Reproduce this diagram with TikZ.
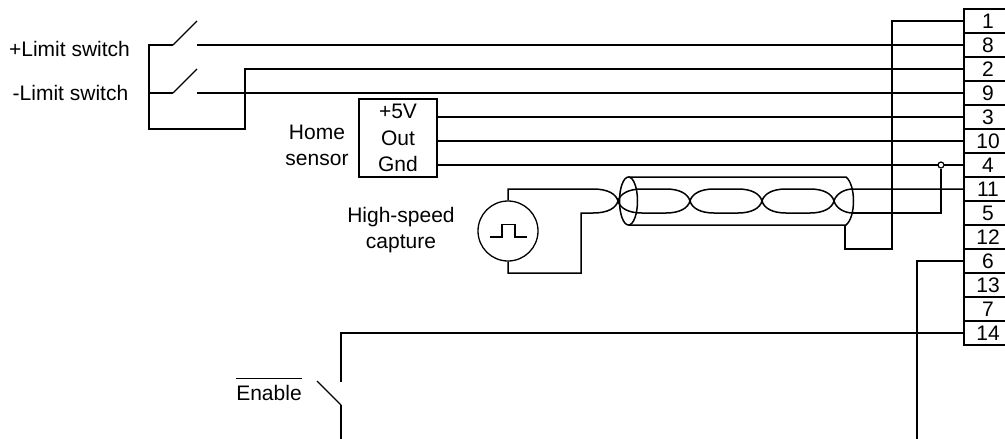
\documentclass[tikz,border=0pt]{standalone}
\usepackage{fontspec}
\setmainfont{Liberation Sans}
\usetikzlibrary{calc}

\begin{document}
\begin{tikzpicture}[x=1pt, y=-1pt]
    % styles: wires, connector cells, labels
    \tikzstyle{wire}=[line width=1.5pt, black, line join=miter]
    \tikzstyle{lbl}=[inner sep=0pt, align=center, font=\fontsize{21}{26.5}\selectfont]
    \tikzstyle{pinbox}=[rectangle, draw=black, line width=1.3pt, fill=white, minimum width=48pt, minimum height=24pt, inner sep=0pt, font=\fontsize{21}{24}\selectfont]

    \useasboundingbox (0,0) rectangle (1005,439);

    % connector cells, top to bottom
    \foreach \pin/\row in {1/0,8/1,2/2,9/3,3/4,10/5,4/6,11/7,5/8,12/9,6/10,13/11,7/12,14/13} {
        \node[pinbox] (p\pin) at (988, 21+24*\row) {\pin};
    }

    % limit switches
    \node[lbl] (lplus) at (69.5,48.5) {+Limit switch};
    \node[lbl] (lminus) at (70.5,92.5) {-Limit switch};
    \coordinate (sa) at (149,45);
    \coordinate (sb) at (149,93);
    \coordinate (sc) at (149,129);
    \coordinate (sd) at (245,129);
    \coordinate (ha) at (173,45);
    \coordinate (hb) at (197,21);
    \coordinate (ja) at (173,93);
    \coordinate (jb) at (197,69);
    \coordinate (ka) at (197,45);
    \coordinate (kb) at (197,93);
    \draw[wire] (ha) -- (sa) -- (sc) -- (sd) |- (p2.west);
    \draw[wire] (sb) -- (ja);
    \draw[wire, line width=1.2pt] (ha) -- (hb);
    \draw[wire, line width=1.2pt] (ja) -- (jb);
    \draw[wire] (ka) -- (p8.west);
    \draw[wire] (kb) -- (p9.west);

    % home sensor
    \node[lbl] (lhome) at (317,145.5) {Home\\sensor};
    \node[lbl, draw=black, line width=1.3pt, minimum width=78pt, minimum height=78pt] (home) at (398,138) {+5V\\Out\\Gnd};
    \coordinate (h5) at (home.east |- p3.west);
    \coordinate (hout) at (home.east |- p10.west);
    \coordinate (hgnd) at (home.east |- p4.west);
    \draw[wire] (h5) -- (p3.west);
    \draw[wire] (hout) -- (p10.west);
    \draw[wire] (hgnd) -- (p4.west);

    % capture source
    \node[lbl] (lcap) at (401,230) {High-speed\\capture};
    \node[circle, draw=black, line width=1.3pt, minimum size=60pt, inner sep=0pt] (src) at (508,231) {};
    \draw[wire, line width=1.3pt] (490,237) -- (502,237) -- (502,224.5) -- (515,224.5) -- (515,237) -- (527,237);

    % twisted pair
    \coordinate (ta) at (508,189);
    \coordinate (tb) at (593,189);
    \coordinate (ba) at (508,273);
    \coordinate (bb) at (581,273);
    \coordinate (bc) at (581,213);
    \coordinate (bd) at (593,213);
    \draw[wire] (src.north) -- (ta) -- (tb) .. controls (608,189) and (616,194) .. (618,201);
    \draw[wire] (src.south) -- (ba) -- (bb) -- (bc) -- (bd) .. controls (608,213) and (616,208) .. (618,201);
    \foreach \a in {618,690,762} {
        \draw[wire] (\a,201) .. controls (\a+2,194) and (\a+10,189) .. (\a+24,189) -- (\a+48,189) .. controls (\a+62,189) and (\a+70,194) .. (\a+72,201);
        \draw[wire] (\a,201) .. controls (\a+2,208) and (\a+10,213) .. (\a+24,213) -- (\a+48,213) .. controls (\a+62,213) and (\a+70,208) .. (\a+72,201);
    }
    \coordinate (ea) at (853,189);
    \coordinate (eb) at (853,213);
    \draw[wire] (834,201) .. controls (836,194) and (844,189) .. (ea) -- (p11.west);
    \draw[wire] (834,201) .. controls (836,208) and (844,213) .. (eb);

    % shield
    \coordinate (sha) at (628.5,177);
    \coordinate (shb) at (846,177);
    \coordinate (shc) at (628.5,225);
    \coordinate (shd) at (846,225);
    \draw[wire] (628.5,201) ellipse [x radius=9, y radius=24];
    \draw[wire] (sha) -- (shb) .. controls (851,181) and (853.5,191) .. (853.5,201) .. controls (853.5,211) and (851,221) .. (shd) -- (shc);

    % shield drain goes to pin 1
    \coordinate (da) at (845,249);
    \coordinate (db) at (892,249);
    \coordinate (dc) at (892,21);
    \draw[wire] (shd -| da) -- (da) -- (db) -- (dc) -- (p1.west);

    % return wire joins pin 4
    \node[circle, draw=black, line width=1.2pt, fill=white, minimum size=6pt, inner sep=0pt] (jn) at (941,165) {};
    \coordinate (jc) at (941,213);
    \draw[wire] (eb) -- (jc) -- (jn.south);

    % enable switch
    \node[lbl, anchor=base] (len) at (269,400) {$\overline{\hbox{\vrule height 20pt width 0pt Enable}}$};
    \coordinate (ea1) at (341,333);
    \coordinate (ea2) at (341,382);
    \coordinate (eb1) at (317,381);
    \coordinate (eb2) at (341,405);
    \coordinate (eb3) at (341,439);
    \draw[wire] (p14.west) -- (ea1) -- (ea2);
    \draw[wire, line width=1.2pt] (eb1) -- (eb2);
    \draw[wire] (eb2) -- (eb3);

    % pin 6 leaves the bottom edge
    \coordinate (ga) at (917,261);
    \coordinate (gb) at (917,439);
    \draw[wire] (p6.west) -- (ga) -- (gb);
\end{tikzpicture}
\end{document}
